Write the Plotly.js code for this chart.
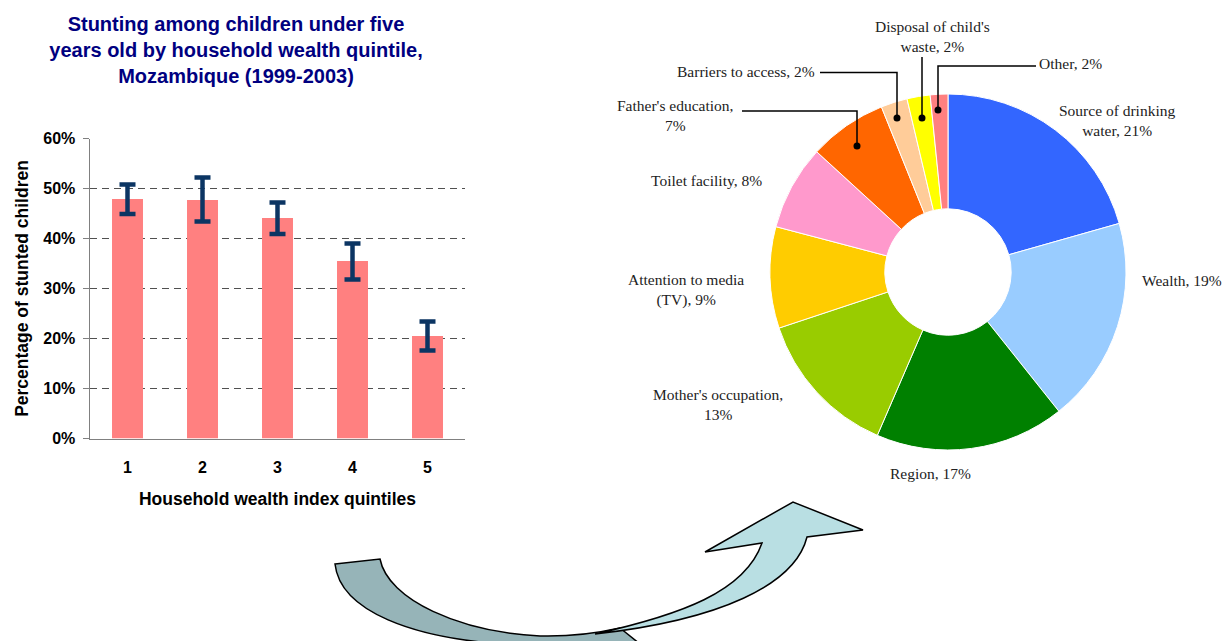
<!DOCTYPE html>
<html>
<head>
<meta charset="utf-8">
<script src="https://cdn.plot.ly/plotly-3.0.1.min.js"></script>
<style>html,body{margin:0;padding:0;background:#fff;}#chart{width:1225px;height:641px;}</style>
</head>
<body>
<div id="chart"></div>
<script>
// ---------- DATA ----------
const quintiles = ['1', '2', '3', '4', '5'];
const stuntedPct = [47.9, 47.7, 44.1, 35.5, 20.5];
const ciHigh = [50.8, 52.2, 47.2, 39.0, 23.4];
const ciLow = [44.9, 43.4, 40.9, 31.8, 17.6];
const yTickVals = [0, 10, 20, 30, 40, 50, 60];
const yTickText = ['0%', '10%', '20%', '30%', '40%', '50%', '60%'];

const factorNames = ['Source of drinking water', 'Wealth', 'Region', "Mother's occupation",
  'Attention to media (TV)', 'Toilet facility', "Father's education", 'Barriers to access',
  "Disposal of child's waste", 'Other'];
const factorShares = [20.6, 18.7, 17.2, 13.4, 9.2, 7.7, 7.1, 2.4, 2.1, 1.6];
const factorColors = ['#3366FF', '#99CCFF', '#008000', '#99CC00', '#FFCC00', '#FF99CC',
  '#FF6600', '#FFCC99', '#FFFF00', '#FF8080'];

// ---------- HELPERS (pixel -> paper) ----------
const W = 1225, H = 641;
const fx = x => x / W;
const fy = y => 1 - y / H;
function openPath(cmds) {
  return cmds.map(c => {
    const op = c[0];
    const pts = [];
    for (let i = 1; i < c.length; i += 2) pts.push(fx(c[i]) + ',' + fy(c[i + 1]));
    return op + ' ' + pts.join(' ');
  }).join(' ');
}
const path = cmds => openPath(cmds) + ' Z';

const sansBold = {family: 'Liberation Sans, Arial, sans-serif', size: 16, color: '#000', weight: 700};
const serif = {family: 'Liberation Serif, Times New Roman, serif', size: 15.5, color: '#222'};

// ---------- TRACES ----------
const bar = {
  type: 'bar',
  x: quintiles,
  y: stuntedPct,
  marker: {color: '#FF8080'},
  error_y: {
    type: 'data', symmetric: false,
    array: ciHigh.map((h, i) => +(h - stuntedPct[i]).toFixed(2)),
    arrayminus: ciLow.map((l, i) => +(stuntedPct[i] - l).toFixed(2)),
    color: '#0B3563', thickness: 4.5, width: 8
  },
  xaxis: 'x', yaxis: 'y',
  hoverinfo: 'x+y'
};

const pie = {
  type: 'pie',
  labels: factorNames,
  values: factorShares,
  sort: false,
  direction: 'clockwise',
  rotation: 0,
  hole: 0.355,
  marker: {colors: factorColors, line: {color: '#FFFFFF', width: 1}},
  textinfo: 'none',
  domain: {x: [fx(770), fx(1126)], y: [fy(450), fy(94)]},
  hoverinfo: 'label+percent'
};

// ---------- PIE LABELS ----------
const labelPos = [
  {x: 1117, y: 120.5, br: 'water'},
  {x: 1182, y: 280},
  {x: 930, y: 473},
  {x: 718, y: 404.5, br: '13%'},
  {x: 686, y: 290, br: '(TV)'},
  {x: 706, y: 181},
  {x: 675, y: 116, br: '7%'},
  {x: 817, y: 72, anchor: 'right'},
  {x: 932, y: 36.5, br: 'waste'},
  {x: 1037, y: 63, anchor: 'left'}
];
const annotations = factorNames.map((n, i) => {
  const p = labelPos[i];
  let t = n + ', ' + Math.round(factorShares[i]) + '%';
  if (p.br) t = t.replace(' ' + p.br, '<br>' + p.br);
  return {
    xref: 'paper', yref: 'paper', x: fx(p.x), y: fy(p.y),
    xanchor: p.anchor || 'center', yanchor: 'middle', align: 'center',
    text: t, showarrow: false, font: serif
  };
});

// leader lines + dots
const leaders = [
  [['M', 742, 111], ['L', 857, 111], ['L', 857, 146]],
  [['M', 820, 72.5], ['L', 897, 72.5], ['L', 897, 118]],
  [['M', 922, 57], ['L', 922, 118]],
  [['M', 1036, 66], ['L', 938, 66], ['L', 938, 110]]
];
const dots = [[857, 146], [897, 118], [922, 118], [938, 110]];
const shapes = [];
leaders.forEach(l => shapes.push({type: 'path', xref: 'paper', yref: 'paper', path: openPath(l),
  line: {color: '#000', width: 1.5}}));
dots.forEach(d => shapes.push({type: 'circle', xref: 'paper', yref: 'paper',
  x0: fx(d[0] - 3.5), x1: fx(d[0] + 3.5), y0: fy(d[1] + 3.5), y1: fy(d[1] - 3.5),
  fillcolor: '#000', line: {color: '#000', width: 0}}));

// curved arrow (decoration)
shapes.push({type: 'path', xref: 'paper', yref: 'paper', layer: 'above',
  path: path([['M', 335, 564], ['L', 380, 559], ['C', 388, 600, 460, 632, 540, 636],
    ['Q', 580, 637, 620, 628], ['L', 660, 660], ['L', 520, 660], ['L', 520, 645],
    ['C', 410, 640, 340, 610, 335, 564]]),
  fillcolor: '#96B4B8', line: {color: '#000', width: 1.5}});
shapes.push({type: 'path', xref: 'paper', yref: 'paper', layer: 'above',
  path: path([['M', 595, 634], ['C', 680, 615, 745, 592, 762, 543], ['L', 705, 552],
    ['L', 793, 502], ['L', 863, 530], ['L', 807, 537], ['C', 795, 585, 720, 620, 595, 634]]),
  fillcolor: '#B9DFE3', line: {color: '#000', width: 1.5}});

// ---------- LAYOUT ----------
const layout = {
  width: W, height: H,
  margin: {l: 0, r: 0, t: 0, b: 0},
  paper_bgcolor: '#fff', plot_bgcolor: 'rgba(0,0,0,0)',
  showlegend: false,
  bargap: 0.587,
  title: {
    text: 'Stunting among children under five<br>years old by household wealth quintile,<br>Mozambique (1999-2003)',
    font: {family: 'Liberation Sans, Arial, sans-serif', size: 20, color: '#000080', weight: 700},
    x: 236 / W, xanchor: 'center', yref: 'container', y: 1 - 31 / H, yanchor: 'top'
  },
  xaxis: {
    domain: [fx(90), fx(465)], type: 'category',
    showline: true, linecolor: '#808080', linewidth: 1.5,
    ticks: '', showgrid: false, zeroline: false,
    tickfont: sansBold, ticklabelstandoff: 14,
    title: {text: 'Household wealth index quintiles', font: Object.assign({}, sansBold, {size: 17.5}), standoff: 17},
    fixedrange: true
  },
  yaxis: {
    domain: [fy(438.5), fy(138.5)], range: [0, 60],
    tickmode: 'array', tickvals: yTickVals, ticktext: yTickText,
    showline: true, linecolor: '#808080', linewidth: 1.5,
    ticks: 'outside', ticklen: 6, tickcolor: '#808080', tickwidth: 1.5,
    showgrid: true, gridcolor: '#505050', gridwidth: 1, griddash: '7px,5px',
    zeroline: false,
    tickfont: sansBold, ticklabelstandoff: 4,
    title: {text: 'Percentage of stunted children', font: Object.assign({}, sansBold, {size: 17.5}), standoff: 10},
    fixedrange: true
  },
  annotations: annotations,
  shapes: shapes
};

Plotly.newPlot('chart', [bar, pie], layout, {displayModeBar: false, staticPlot: true});
</script>
</body>
</html>
